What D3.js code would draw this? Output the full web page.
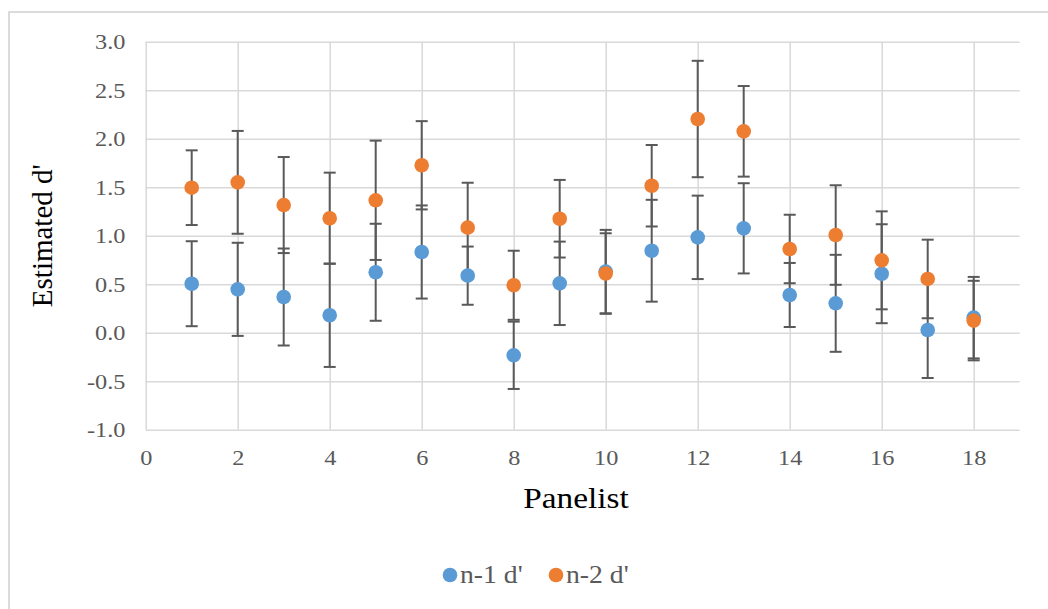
<!DOCTYPE html>
<html>
<head>
<meta charset="utf-8">
<script src="https://cdn.jsdelivr.net/npm/d3@7/dist/d3.min.js"></script>
<style>
  body { margin: 0; background: #fff; }
  svg { display: block; }
  .tick text { font-family: "Liberation Serif", "Times New Roman", serif; font-size: 21.5px; fill: #595959; }
  .grid line { stroke: #d9d9d9; stroke-width: 1.5; }
  .grid .domain { display: none; }
</style>
</head>
<body>
<div id="chart"></div>
<script>
// panelist numbers and estimated d' for the two conditions
const panelists = [1, 2, 3, 4, 5, 6, 7, 8, 9, 10, 11, 12, 13, 14, 15, 16, 17, 18];
const n1 = [0.505, 0.447, 0.368, 0.18, 0.623, 0.832, 0.588, -0.233, 0.509, 0.63, 0.845, 0.983, 1.076, 0.389, 0.303, 0.608, 0.028, 0.155];
const n1Err = [0.438, 0.48, 0.5, 0.533, 0.5, 0.48, 0.3, 0.347, 0.43, 0.43, 0.525, 0.43, 0.465, 0.33, 0.5, 0.51, 0.495, 0.42];
const n2 = [1.495, 1.55, 1.316, 1.18, 1.365, 1.726, 1.083, 0.489, 1.175, 0.61, 1.515, 2.203, 2.076, 0.863, 1.007, 0.746, 0.554, 0.125];
const n2Err = [0.385, 0.53, 0.495, 0.47, 0.615, 0.455, 0.463, 0.356, 0.4, 0.415, 0.42, 0.6, 0.467, 0.353, 0.513, 0.505, 0.405, 0.41];
const xTicks = [0, 2, 4, 6, 8, 10, 12, 14, 16, 18];
const yTicks = [-1, -0.5, 0, 0.5, 1, 1.5, 2, 2.5, 3];
const seriesNames = ["n-1 d'", "n-2 d'"];

const w = 1048, h = 609;
const pLeft = 145.7, pRight = 1019.7, pTop = 41.7, pBottom = 429.7;
const blue = '#5b9bd5', orange = '#ed7d31';
const serif = '"Liberation Serif", "Times New Roman", serif';
const stretch = 'scale(1.13,1)'; // the source picture's text is a bit wider than plain Times

const svg = d3.select('#chart').append('svg').attr('width', w).attr('height', h);

// chart border
svg.append('rect').attr('x', 9).attr('y', 12).attr('width', w).attr('height', h)
   .attr('fill', 'none').attr('stroke', '#d0d0d0').attr('stroke-width', 1.5);

const x = d3.scaleLinear().domain([0, 19]).range([pLeft, pRight]);
const y = d3.scaleLinear().domain([-1, 3]).range([pBottom, pTop]);

svg.append('g').attr('class', 'grid')
   .attr('transform', 'translate(' + pLeft + ',0)')
   .call(d3.axisLeft(y).tickValues(yTicks).tickSize(-(pRight - pLeft)).tickPadding(18)
          .tickFormat(d => d.toFixed(1)))
   .selectAll('.tick text').attr('transform', stretch);

svg.append('g').attr('class', 'grid')
   .attr('transform', 'translate(0,' + pBottom + ')')
   .call(d3.axisBottom(x).tickValues(xTicks).tickSize(-(pBottom - pTop)).tickPadding(20))
   .selectAll('.tick text').attr('transform', stretch);

const series = [
  { vals: n1, errs: n1Err, color: blue },
  { vals: n2, errs: n2Err, color: orange }
];

// error bars first so markers sit on top
const bars = svg.append('g').attr('stroke', '#595959').attr('stroke-width', 2);
series.forEach(s => {
  panelists.forEach((p, i) => {
    const hi = s.vals[i] + s.errs[i], lo = s.vals[i] - s.errs[i];
    bars.append('line').attr('x1', x(p)).attr('x2', x(p)).attr('y1', y(hi)).attr('y2', y(lo));
    bars.append('line').attr('x1', x(p) - 6).attr('x2', x(p) + 6).attr('y1', y(hi)).attr('y2', y(hi));
    bars.append('line').attr('x1', x(p) - 6).attr('x2', x(p) + 6).attr('y1', y(lo)).attr('y2', y(lo));
  });
});

series.forEach(s => {
  svg.append('g').selectAll('circle')
     .data(panelists)
     .enter()
     .append('circle')
     .attr('cx', d => x(d))
     .attr('cy', (d, i) => y(s.vals[i]))
     .attr('r', 7.3)
     .attr('fill', s.color);
});

// axis titles
svg.append('text').text("Estimated d'")
   .attr('transform', 'translate(52,' + ((pTop + pBottom) / 2) + ') rotate(-90)')
   .attr('text-anchor', 'middle')
   .style('font-family', serif).style('font-size', '29px').style('fill', '#000');

svg.append('text').text('Panelist')
   .attr('transform', 'translate(576,508) ' + stretch)
   .attr('text-anchor', 'middle')
   .style('font-family', serif).style('font-size', '29.5px').style('fill', '#000');

// legend
const legendX = [450, 556];
seriesNames.forEach((name, i) => {
  svg.append('circle').attr('cx', legendX[i]).attr('cy', 575).attr('r', 7.3).attr('fill', series[i].color);
  svg.append('text').text(name)
     .attr('transform', 'translate(' + (legendX[i] + 10) + ',583) ' + stretch)
     .style('font-family', serif).style('font-size', '24.5px').style('fill', '#595959');
});
</script>
</body>
</html>
